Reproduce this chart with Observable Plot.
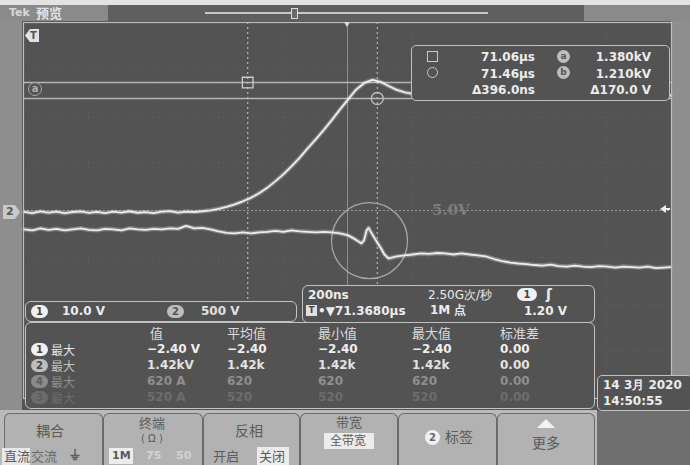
<!DOCTYPE html>
<html><head><meta charset="utf-8">
<script src="https://cdn.jsdelivr.net/npm/d3@7"></script>
<script src="https://cdn.jsdelivr.net/npm/@observablehq/plot@0.6"></script>
<style>
html,body{margin:0;padding:0;background:#8e8e8e;}
#scope{position:relative;width:690px;height:465px;overflow:hidden;background:#8e8e8e;font-family:"DejaVu Sans",sans-serif;}
.abs{position:absolute;box-sizing:border-box;}
.t{color:#ececec;font-weight:bold;font-size:12px;white-space:nowrap;line-height:1;}
.cjk{font-family:"Noto Sans CJK SC",sans-serif;font-weight:normal;}
</style></head><body><div id="scope"></div>
<script>
// ---------------- data ----------------
const horizPos = 71.368;      // µs, screen centre
const timePerDiv = 0.2;       // µs (200 ns)
const chScales = [10.0, 500]; // V/div : ch1, ch2
const chScaleLabels = ["10.0 V", "500 V"];
const ch2Top = 2019, ch2Bottom = -1981;   // V at top/bottom of graticule (ch2)
const ch1Ground = -21;                    // ch1 0 V position, on ch2 scale

const ch2Time = [70.370,70.395,70.420,70.445,70.470,70.495,70.520,70.545,70.570,70.595,70.620,70.645,70.670,70.695,70.720,70.745,70.770,70.795,70.820,70.845,70.870,70.895,70.920,70.945,70.970,70.995,71.020,71.045,71.070,71.095,71.120,71.145,71.170,71.195,71.220,71.245,71.270,71.295,71.320,71.345,71.370,71.395,71.420,71.445,71.470,71.495,71.520,71.545,71.570,71.700,71.850,72.000,72.150,72.300,72.365];
const ch2Volts = [5,-8,10,-4,6,-10,3,9,-6,4,-9,7,-3,11,-5,2,-8,6,12,-4,8,3,11,21,37,58,85,117,154,202,260,329,404,489,579,680,776,877,983,1095,1201,1307,1376,1408,1387,1344,1302,1275,1259,1255,1248,1250,1244,1246,1242];

const ch1Time = [70.370,70.395,70.420,70.445,70.470,70.495,70.520,70.545,70.570,70.595,70.620,70.645,70.670,70.695,70.720,70.745,70.770,70.795,70.820,70.845,70.870,70.895,70.920,70.945,70.970,70.995,71.020,71.045,71.070,71.095,71.120,71.145,71.170,71.195,71.220,71.245,71.270,71.295,71.320,71.345,71.370,
71.387,71.402,71.411,71.419,71.427,71.433,71.441,71.454,71.470,71.482,71.495,
71.520,71.545,71.570,71.595,71.620,71.645,71.670,71.695,71.720,71.745,71.770,71.795,71.820,71.845,71.870,71.895,71.920,71.945,71.970,71.995,72.020,72.045,72.070,72.095,72.120,72.145,72.170,72.195,72.220,72.245,72.270,72.295,72.320,72.345,72.365];
const ch1Volts = [-3.21,-3.42,-2.99,-3.32,-3.10,-3.42,-3.21,-2.99,-3.32,-3.42,-3.10,-3.21,-3.42,-2.99,-3.21,-3.32,-3.10,-3.21,-2.99,-3.10,-2.46,-2.99,-2.89,-3.21,-3.64,-3.96,-4.06,-3.85,-4.06,-3.85,-3.74,-3.53,-3.74,-3.42,-3.64,-3.74,-3.85,-3.74,-3.85,-4.06,-4.49,
-5.13,-5.78,-6.20,-5.56,-3.42,-2.89,-3.85,-5.35,-7.06,-8.56,-9.41,
-8.98,-8.77,-8.56,-8.34,-8.45,-8.24,-8.34,-8.56,-8.34,-8.56,-8.77,-8.98,-9.52,-9.95,-10.27,-10.48,-10.59,-10.80,-10.91,-10.70,-11.02,-11.12,-10.91,-11.12,-11.23,-11.02,-11.12,-11.34,-11.12,-11.23,-11.34,-11.12,-11.44,-11.34,-11.23];

const cursorTimes = [71.06, 71.46];      // µs
const cursorVolts = [1380, 1210];        // V (ch2)
const cursorTimeText = ["71.06µs", "71.46µs", "Δ396.0ns"];
const cursorVoltText = ["1.380kV", "1.210kV", "Δ170.0 V"];
const highlightTime = [71.436];          // circled glitch on ch1
const highlightCh1Volts = [-5.6];

const measHeaders = ["值", "平均值", "最小值", "最大值", "标准差"];
const measChannels = ["1", "2", "4", "3"];
const measType = ["最大", "最大", "最大", "最大"];
const measValues = [
  ["−2.40 V", "−2.40", "−2.40", "−2.40", "0.00"],
  ["1.42kV", "1.42k", "1.42k", "1.42k", "0.00"],
  ["620 A", "620", "620", "620", "0.00"],
  ["520 A", "520", "520", "520", "0.00"]
];
const timebaseText = ["200ns", "2.50G次/秒", "71.3680µs", "1M 点", "1.20 V"];
const dateText = ["14 3月 2020", "14:50:55"];
const buttonTitles = ["耦合", "终端", "反相", "带宽", "标签", "更多"];

// ---------------- layout helpers ----------------
const S = document.getElementById("scope");
function box(x, y, w, h, style = {}, html = "") {
  const d = document.createElement("div");
  d.className = "abs";
  Object.assign(d.style, {left: x + "px", top: y + "px"}, w != null ? {width: w + "px"} : {}, h != null ? {height: h + "px"} : {}, style);
  d.innerHTML = html; S.appendChild(d); return d;
}
function txt(x, y, s, style = {}, cls = "") {
  const d = document.createElement("div");
  d.className = "abs t " + cls;
  Object.assign(d.style, {left: x + "px", top: y + "px"}, style);
  d.textContent = s; S.appendChild(d); return d;
}
function badge(x, y, s, bg, fg, w = 17) {
  return box(x, y, w, 13, {background: bg, color: fg, borderRadius: "7px", font: "bold 10px 'DejaVu Sans'", textAlign: "center", lineHeight: "13px"}, s);
}
const border = "1.5px solid #c2c2c2";
const scr = "#535353";

// frame / bars
box(0, 0, 690, 5, {background: "#e2e2e2"});
box(0, 5, 690, 16, {background: "#8a8a8a"});
box(108, 5, 476, 16, {background: "#5f5f5f"});
txt(9, 7, "Tek", {color: "#d8d8d8", fontSize: "11px"});
txt(36, 6, "预览", {color: "#e4e4e4", fontSize: "13px", fontWeight: "bold"}, "cjk");
box(205, 12, 283, 2, {background: "#c8c8c8"});
box(291, 8, 7, 11, {border: "1.5px solid #dcdcdc", background: "#6a6a6a"});
box(22, 21, 649, 390, {background: scr});

// ---------------- the plot ----------------
const xDomain = [horizPos - 5 * timePerDiv, horizPos + 5 * timePerDiv];
const yDomain = [ch2Bottom, ch2Top];
const gridX = d3.range(11).map(i => xDomain[0] + i * timePerDiv);
const gridY = d3.range(9).map(i => ch2Bottom + i * chScales[1]);
const ratio = chScales[1] / chScales[0];
const ch2 = ch2Time.map((t, i) => ({t, v: ch2Volts[i]}));
const ch1 = ch1Time.map((t, i) => ({t, v: ch1Ground + ch1Volts[i] * ratio}));
const hl = highlightTime.map((t, i) => ({t, v: ch1Ground + highlightCh1Volts[i] * ratio}));
const curA = [{t: cursorTimes[0], v: cursorVolts[0]}];
const curB = [{t: cursorTimes[1], v: cursorVolts[1]}];

const plot = Plot.plot({
  width: 648, height: 376, margin: 0,
  x: {domain: xDomain, axis: null},
  y: {domain: yDomain, axis: null},
  style: {background: "transparent", overflow: "visible"},
  marks: [
    Plot.ruleX(gridX, {stroke: "#cfcfcf", strokeOpacity: 0.13, strokeDasharray: "1,4"}),
    Plot.ruleY(gridY, {stroke: "#cfcfcf", strokeOpacity: 0.13, strokeDasharray: "1,4"}),
    Plot.ruleX([horizPos], {stroke: "#bcbcbc", strokeOpacity: 0.55}),
    Plot.ruleY([gridY[4]], {stroke: "#c4c4c4", strokeOpacity: 0.6, strokeDasharray: "2,2"}),
    Plot.ruleX(cursorTimes, {stroke: "#cfcfcf", strokeOpacity: 0.8, strokeDasharray: "2,3", strokeWidth: 1.2}),
    Plot.ruleY(cursorVolts, {stroke: "#c6c6c6", strokeOpacity: 0.85, strokeWidth: 1.5}),
    Plot.dot(hl, {x: "t", y: "v", r: 38, stroke: "#a8a8a8", strokeWidth: 1.3, fill: "none"}),
    Plot.line(ch2, {x: "t", y: "v", stroke: "#e0e0e0", strokeWidth: 4.5, strokeOpacity: 0.3}),
    Plot.line(ch2, {x: "t", y: "v", stroke: "#ededed", strokeWidth: 1.8}),
    Plot.line(ch1, {x: "t", y: "v", stroke: "#e0e0e0", strokeWidth: 4.5, strokeOpacity: 0.3}),
    Plot.line(ch1, {x: "t", y: "v", stroke: "#ededed", strokeWidth: 1.8}),
    Plot.dot(curA, {x: "t", y: "v", symbol: "square", r: 6, stroke: "#cfcfcf", strokeWidth: 1.3, fill: "none"}),
    Plot.dot(curB, {x: "t", y: "v", r: 6, stroke: "#b8b8b8", strokeWidth: 1.5, fill: "none"}),
    Plot.frame({stroke: "#bdbdbd", strokeWidth: 1.2})
  ]
});
Object.assign(plot.style, {position: "absolute", left: "23px", top: "22px"});
S.appendChild(plot);

// ---------------- screen markers ----------------
box(25, 29, 14, 13, {background: "#e2e2e2", color: "#555", font: "bold 10px 'DejaVu Sans'", textAlign: "center", lineHeight: "13px", clipPath: "polygon(35% 0,100% 0,100% 100%,35% 100%,0 50%)", paddingLeft: "3px"}, "T");
box(28, 82, 14, 14, {border: "1.5px solid #a8a8a8", borderRadius: "50%", color: "#b0b0b0", font: "bold 10px 'DejaVu Sans'", textAlign: "center", lineHeight: "11px"}, "a");
box(3, 205, 17, 14, {background: "#c9c9c9", color: "#555", font: "bold 11px 'DejaVu Sans'", lineHeight: "14px", paddingLeft: "3px", clipPath: "polygon(0 0,70% 0,100% 50%,70% 100%,0 100%)"}, "2");
box(660, 205, 0, 0, {borderTop: "4px solid transparent", borderBottom: "4px solid transparent", borderRight: "6px solid #eeeeee"});
box(665, 208, 5, 2, {background: "#eeeeee"});
box(344, 22, 0, 0, {borderLeft: "3.5px solid transparent", borderRight: "3.5px solid transparent", borderTop: "5px solid #dddddd"});
txt(432, 201, "5.0V", {color: "#7e7e7e", font: "bold 15px 'DejaVu Serif'"});

// ---------------- cursor readout ----------------
box(411, 45, 259, 56, {border: border, borderRadius: "5px", background: scr});
box(427, 51, 11, 11, {border: "1.5px solid #c8c8c8"});
box(427, 67, 11, 11, {border: "1.5px solid #c8c8c8", borderRadius: "50%"});
cursorTimeText.forEach((s, i) => txt(440, 51 + i * 16.5, s, {width: "95px", textAlign: "right"}));
box(557, 50, 13, 13, {background: "#bdbdbd", borderRadius: "50%", color: "#555", font: "bold 9px 'DejaVu Sans'", textAlign: "center", lineHeight: "13px"}, "a");
box(557, 66, 13, 13, {background: "#bdbdbd", borderRadius: "50%", color: "#555", font: "bold 9px 'DejaVu Sans'", textAlign: "center", lineHeight: "13px"}, "b");
cursorVoltText.forEach((s, i) => txt(560, 51 + i * 16.5, s, {width: "91px", textAlign: "right"}));

// ---------------- channel scale box ----------------
box(25, 301, 272, 21, {border: border, borderRadius: "6px", background: scr});
badge(31, 305, "1", "#f0f0f0", "#444");
txt(62, 305, chScaleLabels[0]);
badge(167, 305, "2", "#bdbdbd", "#555");
txt(201, 305, chScaleLabels[1], {color: "#e0e0e0"});

// ---------------- timebase box ----------------
box(302, 285, 293, 38, {border: border, borderRadius: "6px", background: scr});
txt(308, 289, timebaseText[0]);
txt(428, 289, timebaseText[1], {fontWeight: "normal"});
badge(517, 288, "1", "#f0f0f0", "#444", 20);
txt(546, 287, "ʃ", {fontSize: "14px"});
box(306, 305, 11, 11, {background: "#e0e0e0", color: "#444", font: "bold 9px 'DejaVu Sans'", textAlign: "center", lineHeight: "11px"}, "T");
txt(318, 305, "•▼" + timebaseText[2]);
txt(430, 304, timebaseText[3], {}, "");
txt(520, 305, timebaseText[4], {width: "47px", textAlign: "right"});

// ---------------- measurement table ----------------
box(25, 322, 570, 87, {border: border, borderRadius: "6px", background: scr});
const colX = [147, 227, 318, 412, 500];
measHeaders.forEach((h, i) => txt(colX[i] + (i === 0 ? 3 : 0), 326, h, {fontSize: "13px", color: "#dcdcdc"}, "cjk"));
const rowCol = ["#efefef", "#e2e2e2", "#8f8f8f", "#6d6d6d"];
const labelCol = ["#e6e6e6", "#c4c4c4", "#8f8f8f", "#6d6d6d"];
const badgeBg = ["#f0f0f0", "#bdbdbd", "#8a8a8a", "#6c6c6c"];
measChannels.forEach((c, r) => {
  const y = 343 + r * 16;
  badge(31, y, c, badgeBg[r], r < 2 ? "#444" : "#5e5e5e");
  txt(51, y, measType[r], {fontSize: "12px", height: "13px", lineHeight: "13px", color: labelCol[r]}, "cjk");
  measValues[r].forEach((v, i) => txt(colX[i], y, v, {color: rowCol[r]}));
});

// ---------------- date ----------------
box(597, 375, 96, 36, {border: border, borderRadius: "5px", background: scr});
txt(603, 379, dateText[0]);
txt(603, 395, dateText[1]);

// ---------------- bottom menu ----------------
box(0, 410, 597, 55, {background: "#bababa"});
box(597, 411, 93, 54, {background: "#6f6f6f"});
const btnX = [4, 103, 203, 300, 398, 497, 595];
for (let i = 0; i < 6; i++) {
  box(btnX[i], 413, btnX[i + 1] - btnX[i], 54, {background: "#b2b2b2", border: "1.5px solid #6b6b6b", borderBottom: "none", borderRadius: "6px 6px 0 0"});
}
const bt = {color: "#5a5a5a", fontSize: "14px"};
txt(36, 423, buttonTitles[0], bt, "cjk");
box(2, 448, 28, 17, {background: "#e8e8e8"});
txt(4, 449, "直流", {...bt, fontSize: "13px"}, "cjk");
txt(31, 449, "交流", {...bt, fontSize: "13px", color: "#6a6a6a"}, "cjk");
txt(70, 448, "⏚", {...bt, fontSize: "14px"});
txt(139, 416, buttonTitles[1], {...bt, fontSize: "13px"}, "cjk");
txt(141, 434, "( Ω )", {...bt, fontSize: "10px", fontWeight: "normal"});
box(109, 448, 24, 16, {background: "#ececec"});
txt(112, 450, "1M", {...bt, fontSize: "11px"});
txt(146, 450, "75", {...bt, fontSize: "11px", color: "#d2d2d2"});
txt(176, 450, "50", {...bt, fontSize: "11px", color: "#d2d2d2"});
txt(235, 423, buttonTitles[2], bt, "cjk");
txt(213, 449, "开启", {...bt, fontSize: "13px"}, "cjk");
box(257, 447, 32, 18, {background: "#ececec"});
txt(259, 449, "关闭", {...bt, fontSize: "13px"}, "cjk");
txt(336, 415, buttonTitles[3], {...bt, fontSize: "13px"}, "cjk");
box(324, 433, 50, 16, {background: "#ececec"});
txt(330, 434, "全带宽", {...bt, fontSize: "12px"}, "cjk");
box(425, 430, 15, 15, {background: "#f0f0f0", borderRadius: "50%", color: "#666", font: "bold 10px 'DejaVu Sans'", textAlign: "center", lineHeight: "15px"}, "2");
txt(445, 429, buttonTitles[4], bt, "cjk");
box(537, 419, 0, 0, {borderLeft: "9px solid transparent", borderRight: "9px solid transparent", borderBottom: "9px solid #f2f2f2"});
txt(532, 435, buttonTitles[5], bt, "cjk");
</script></body></html>
